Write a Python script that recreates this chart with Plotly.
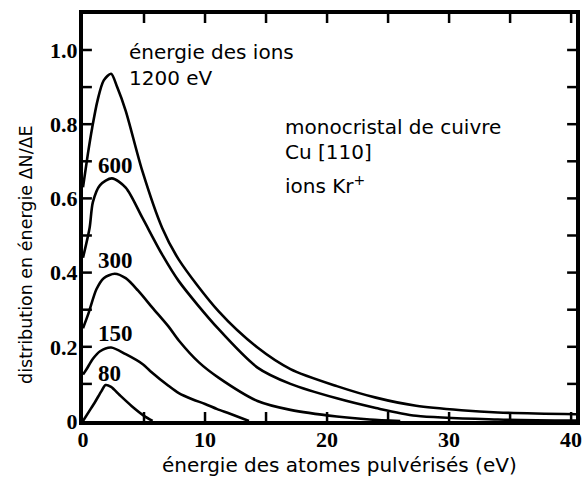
import plotly.graph_objects as go

# energy of the sputtered atoms (eV) and dN/dE for each ion energy
x_80 = [0, 0.5, 1.0, 1.5, 1.85, 2.3, 3.0, 4.0, 5.0, 5.7]
y_80 = [0, 0.026, 0.052, 0.08, 0.097, 0.092, 0.07, 0.04, 0.014, 0]

x_150 = [0, 0.3, 0.8, 1.4, 2.3, 3.5, 4.9, 5.5, 7.0, 7.85, 9.0, 10.0, 11.0, 12.0, 13.6]
y_150 = [0.125, 0.14, 0.167, 0.188, 0.198, 0.18, 0.153, 0.135, 0.095, 0.075, 0.058, 0.046, 0.032, 0.02, 0]

x_300 = [0, 0.45, 1.1, 1.7, 2.6, 3.5, 4.5, 5.7, 7.0, 7.85, 9.5, 11.1, 14.3, 17.0, 20.8, 23.5, 26.0]
y_300 = [0.25, 0.29, 0.355, 0.385, 0.397, 0.385, 0.352, 0.305, 0.255, 0.217, 0.158, 0.117, 0.054, 0.03, 0.012, 0.004, 0]

x_600 = [0, 0.54, 0.81, 1.4, 2.37, 3.5, 4.86, 6.48, 7.85, 11.1, 14.3, 17.0, 20.8, 24.0, 27.3, 34.0, 40.4]
y_600 = [0.44, 0.52, 0.59, 0.636, 0.654, 0.629, 0.548, 0.449, 0.377, 0.248, 0.144, 0.1, 0.061, 0.035, 0.014, 0.004, 0.001]

x_1200 = [0, 0.4, 0.75, 1.2, 1.7, 2.3, 2.8, 3.5, 4.86, 6.48, 7.85, 11.1, 14.3, 17.0, 20.8, 24.0, 27.3, 31.0, 34.0, 40.4]
y_1200 = [0.63, 0.72, 0.79, 0.865, 0.918, 0.936, 0.9, 0.836, 0.674, 0.521, 0.435, 0.296, 0.198, 0.14, 0.094, 0.063, 0.041, 0.029, 0.023, 0.018]

curve_labels = ['80', '150', '300', '600']
label_x = [2.19, 2.67, 2.65, 2.67]
label_y = [0.129, 0.237, 0.432, 0.69]

# every tick position, labelled or not
y_tickvals = [0, 0.1, 0.2, 0.3, 0.4, 0.5, 0.6, 0.7, 0.8, 0.9, 1.0]
y_ticktext = ['0', '', '0.2', '', '0.4', '', '0.6', '', '0.8', '', '1.0']
x_tickvals = [0, 5, 10, 15, 20, 25, 30, 35, 40]
x_ticktext = ['0', '', '10', '', '20', '', '30', '', '40']

SANS = 'DejaVu Sans'
NUM_FONT = dict(family='Liberation Serif', size=22, color='black', weight='bold')

W, H = 584, 491
MARGIN = {'l': 83, 'r': 2, 't': 14, 'b': 70}
X_RANGE = [0, 40.4]
Y_RANGE = [0, 1.097]
TICK_PX = 9


def tick_trace():
    # inward ticks on all four sides, drawn as one broken line
    dx = TICK_PX * (X_RANGE[1] - X_RANGE[0]) / (W - MARGIN['l'] - MARGIN['r'])
    dy = TICK_PX * (Y_RANGE[1] - Y_RANGE[0]) / (H - MARGIN['t'] - MARGIN['b'])
    xs, ys = [], []
    for xv in x_tickvals[1:]:
        xs += [xv, xv, None, xv, xv, None]
        ys += [Y_RANGE[0], Y_RANGE[0] + dy, None, Y_RANGE[1], Y_RANGE[1] - dy, None]
    for yv in y_tickvals[1:]:
        xs += [X_RANGE[0], X_RANGE[0] + dx, None, X_RANGE[1], X_RANGE[1] - dx, None]
        ys += [yv, yv, None, yv, yv, None]
    return go.Scatter(x=xs, y=ys, mode='lines', line=dict(color='black', width=2.5),
                      showlegend=False, hoverinfo='skip', cliponaxis=False)


def get_sputter_plot():
    fig = go.Figure()
    for xs, ys in [(x_80, y_80), (x_150, y_150), (x_300, y_300),
                   (x_600, y_600), (x_1200, y_1200)]:
        fig.add_trace(go.Scatter(x=xs, y=ys, mode='lines',
                                 line=dict(color='black', width=2.6,
                                           shape='spline', smoothing=0.8),
                                 showlegend=False, hoverinfo='skip'))
    fig.add_trace(tick_trace())

    for txt, lx, ly in zip(curve_labels, label_x, label_y):
        fig.add_annotation(x=lx, y=ly, text=txt, showarrow=False,
                           font=dict(NUM_FONT, size=23))

    notes = [('énergie des ions', 3.64, 0.995),
             ('1200 eV', 3.64, 0.925),
             ('monocristal de cuivre', 16.36, 0.792),
             ('Cu [110]', 16.36, 0.725),
             ('ions Kr<sup>+</sup>', 16.36, 0.635)]
    for txt, nx, ny in notes:
        fig.add_annotation(x=nx, y=ny, text=txt, showarrow=False,
                           xanchor='left', yanchor='middle',
                           font=dict(family=SANS, size=20, color='black'))

    # axis titles placed by hand
    fig.add_annotation(xref='paper', yref='paper', x=0.521, y=-0.108,
                       xanchor='center', yanchor='middle',
                       text='énergie des atomes pulvérisés (eV)', showarrow=False,
                       font=dict(family=SANS, size=20, color='black'))
    fig.add_annotation(xref='paper', yref='paper', x=-0.116, y=0.41,
                       xanchor='center', yanchor='middle',
                       text='distribution en énergie ΔN/ΔE', showarrow=False,
                       textangle=-90,
                       font=dict(family=SANS, size=17.5, color='black'))

    axis_style = dict(tickmode='array', ticks='', showline=True, linewidth=4,
                      linecolor='black', mirror=True, showgrid=False,
                      zeroline=False, tickfont=NUM_FONT, ticklabeloverflow='allow')
    fig.update_xaxes(range=X_RANGE, tickvals=x_tickvals, ticktext=x_ticktext,
                     ticklabelstandoff=-4, **axis_style)
    fig.update_yaxes(range=Y_RANGE, tickvals=y_tickvals, ticktext=y_ticktext,
                     ticklabelstandoff=-3, **axis_style)

    fig.update_layout(width=W, height=H, margin=MARGIN,
                      plot_bgcolor='white', paper_bgcolor='white')
    return fig


fig = get_sputter_plot()
fig.write_html("out.html", config={'displayModeBar': False},
               post_script="document.body.style.margin = '0';")
